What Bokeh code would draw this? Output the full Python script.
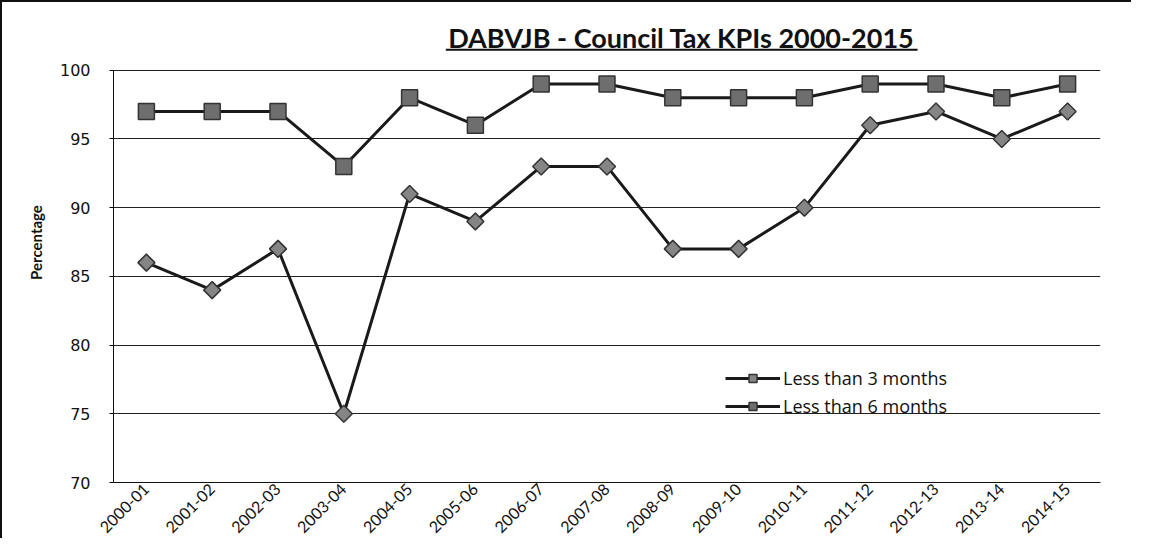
import math
from bokeh.plotting import figure
from bokeh.models import FactorRange, Range1d, Label, BoxAnnotation, Legend, FixedTicker
from bokeh.embed import file_html
from bokeh.resources import INLINE

years = ["2000-01", "2001-02", "2002-03", "2003-04", "2004-05", "2005-06", "2006-07",
         "2007-08", "2008-09", "2009-10", "2010-11", "2011-12", "2012-13", "2013-14", "2014-15"]
less_3_months = [86, 84, 87, 75, 91, 89, 93, 93, 87, 87, 90, 96, 97, 95, 97]
less_6_months = [97, 97, 97, 93, 98, 96, 99, 99, 98, 98, 98, 99, 99, 98, 99]
y_ticks = [70, 75, 80, 85, 90, 95, 100]
title_text = "DABVJB - Council Tax KPIs 2000-2015"

p = figure(width=1131, height=538, x_range=FactorRange(factors=years),
           y_range=Range1d(70, 104.93), output_backend="svg", toolbar_location=None,
           min_border_left=111, min_border_top=0, min_border_right=33, min_border_bottom=56)
p.styles = {"border-left": "2px solid #111", "border-top": "2px solid #111"}
p.outline_line_color = None
p.background_fill_color = "white"
p.border_fill_color = "white"

# grid
p.xgrid.grid_line_color = None
p.ygrid.ticker = FixedTicker(ticks=y_ticks)
p.ygrid.grid_line_color = "#222222"
p.ygrid.grid_line_width = 1

# y axis
p.yaxis.ticker = FixedTicker(ticks=y_ticks)
p.yaxis.bounds = (70, 100)
p.yaxis.axis_line_color = "#111111"
p.yaxis.major_tick_out = 4
p.yaxis.major_tick_in = 0
p.yaxis.minor_tick_line_color = None
p.yaxis.major_label_standoff = 19
p.yaxis.major_label_text_font = "DejaVu Sans"
p.yaxis.major_label_text_font_size = "16px"
p.yaxis.major_label_text_color = "#111111"
p.yaxis.axis_label = "Percentage"
p.yaxis.axis_label_text_font = "Lato"
p.yaxis.axis_label_text_font_style = "bold"
p.yaxis.axis_label_text_font_size = "15px"
p.yaxis.axis_label_text_color = "#111111"
p.yaxis.axis_label_standoff = 12

# x axis
p.xaxis.axis_line_color = "#111111"
p.xaxis.major_tick_out = 0
p.xaxis.major_tick_in = 0
p.xaxis.major_label_orientation = math.pi / 4
p.xaxis.major_label_standoff = 4
p.xaxis.major_label_text_font = "Lato"
p.xaxis.major_label_text_font_size = "16px"
p.xaxis.major_label_text_color = "#111111"

line_color = "#1a1a1a"
marker_fill = "#858585"

r1 = p.line(years, less_3_months, line_color=line_color, line_width=3)
m1 = p.scatter(years, less_3_months, marker="square", angle=math.pi / 4, size=12,
               fill_color=marker_fill, line_color="#333333", line_width=1.5)
r2 = p.line(years, less_6_months, line_color=line_color, line_width=3)
m2 = p.scatter(years, less_6_months, marker="square", size=16,
               fill_color="#6e6e6e", line_color="#333333", line_width=1.5)

legend = Legend(items=[("Less than 3 months", [r1, m1]), ("Less than 6 months", [r2, m2])],
                location=(612, 64), padding=0, margin=0, spacing=4,
                glyph_width=55, glyph_height=20, label_height=20, label_standoff=3,
                background_fill_alpha=0, border_line_color=None,
                label_text_font="Open Sans", label_text_font_size="18px",
                label_text_color="#111111")
p.add_layout(legend, "center")

# title with underline
p.add_layout(Label(x=8.63, y=102.39, text=title_text, text_align="center",
                   text_baseline="middle", text_font="Lato", text_font_style="bold",
                   text_font_size="27px", text_color="#111111"))
p.add_layout(BoxAnnotation(left=5.05, right=12.22, bottom=101.41, top=101.56,
                           fill_color="#111111", fill_alpha=1, line_color=None))

open("out.html", "w").write(file_html(p, INLINE))
